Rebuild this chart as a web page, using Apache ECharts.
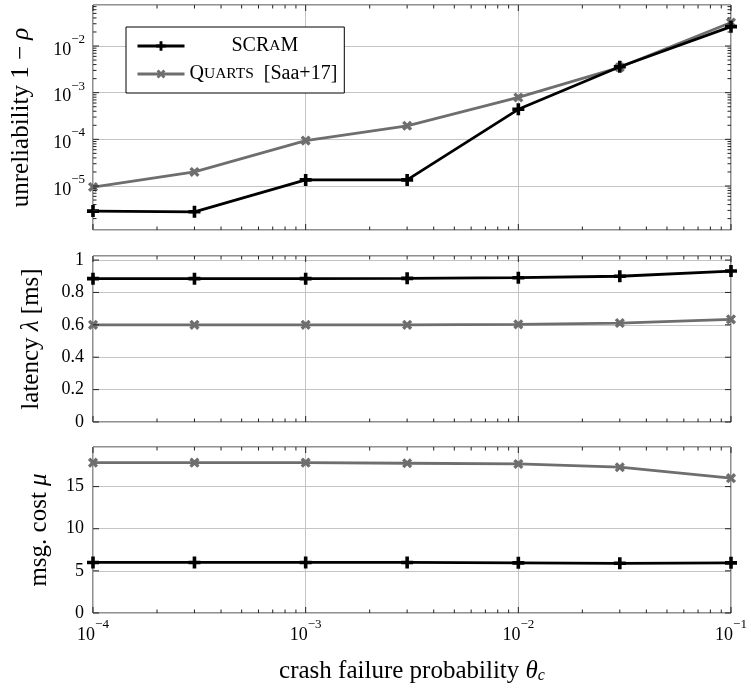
<!DOCTYPE html>
<html><head><meta charset="utf-8">
<script src="https://cdn.jsdelivr.net/npm/echarts@6/dist/echarts.min.js"></script>
<style>html,body{margin:0;padding:0;background:#fff}#c{width:751px;height:688px}</style>
</head><body><div id="c"></div>
<script>
// ---- data ----
const theta = [1e-4, 3e-4, 1e-3, 3e-3, 1e-2, 3e-2, 1e-1];
const scramUnrel = [2.9e-6, 2.8e-6, 1.35e-5, 1.35e-5, 4.4e-4, 3.6e-3, 2.6e-2];
const quartsUnrel = [9.5e-6, 2.0e-5, 9.4e-5, 1.95e-4, 7.9e-4, 3.5e-3, 3.2e-2];
const scramLat = [0.885, 0.885, 0.885, 0.887, 0.891, 0.900, 0.932];
const quartsLat = [0.600, 0.600, 0.600, 0.600, 0.603, 0.611, 0.634];
const scramCost = [6.0, 6.0, 6.0, 6.0, 5.95, 5.9, 5.95];
const quartsCost = [17.84, 17.84, 17.84, 17.77, 17.69, 17.3, 16.0];
const xMajorTicks = [1e-4, 1e-3, 1e-2, 1e-1];
const unrelMajorTicks = [1e-5, 1e-4, 1e-3, 1e-2];
const latTicks = [0, 0.2, 0.4, 0.6, 0.8, 1];
const costTicks = [0, 5, 10, 15];

const FONT = 'Liberation Serif';
const GRAY = '#6e6e6e';
const FRAME = '#222';

function minorLog(lo, hi) {
  const out = [];
  for (let k = -7; k <= 0; k++) for (let m = 2; m <= 9; m++) {
    const v = m * Math.pow(10, k);
    if (v > lo && v < hi) out.push(v);
  }
  return out;
}
const xMinor = minorLog(1e-4, 1e-1);
const yMinor = minorLog(1.14e-6, 0.0757);

function xTickSeries(gi, yRef) {
  const data = xMajorTicks.map(v => [v, yRef, 6]).concat(xMinor.map(v => [v, yRef, 3.5]));
  return {
    type: 'custom', xAxisIndex: gi, yAxisIndex: gi, silent: true, z: 5, data,
    renderItem: (params, api) => {
      const cs = params.coordSys;
      const x = api.coord([api.value(0), yRef])[0];
      const L = api.value(2);
      const st = { stroke: FRAME, lineWidth: 1 };
      return { type: 'group', children: [
        { type: 'line', shape: { x1: x, y1: cs.y + cs.height, x2: x, y2: cs.y + cs.height - L }, style: st },
        { type: 'line', shape: { x1: x, y1: cs.y, x2: x, y2: cs.y + L }, style: st }
      ]};
    }
  };
}
function yTickSeries(gi, vals) {
  const data = vals.map(v => [1e-3, v[0], v[1]]);
  return {
    type: 'custom', xAxisIndex: gi, yAxisIndex: gi, silent: true, z: 5, data,
    renderItem: (params, api) => {
      const cs = params.coordSys;
      const y = api.coord([1e-3, api.value(1)])[1];
      const len = api.value(2);
      const st = { stroke: FRAME, lineWidth: 1 };
      return { type: 'group', children: [
        { type: 'line', shape: { x1: cs.x, y1: y, x2: cs.x + len, y2: y }, style: st },
        { type: 'line', shape: { x1: cs.x + cs.width, y1: y, x2: cs.x + cs.width - len, y2: y }, style: st }
      ]};
    }
  };
}

const plusPath = 'path://M3.5,0h3v3.5h3.5v3h-3.5v3.5h-3v-3.5h-3.5v-3h3.5z';
function lineSeries(name, gi, ys, color, rot) {
  return {
    name, type: 'line', xAxisIndex: gi, yAxisIndex: gi,
    data: theta.map((t, i) => [t, ys[i]]),
    symbol: plusPath, symbolSize: rot ? 11 : 12, symbolRotate: rot ? 45 : 0,
    showSymbol: true, z: rot ? 3 : 4,
    lineStyle: { color, width: 2.8 }, itemStyle: { color },
    emphasis: { disabled: true }
  };
}

const supRich = {
  b: { fontFamily: FONT, fontSize: 18, color: '#000', lineHeight: 26, verticalAlign: 'bottom' },
  s: { fontFamily: FONT, fontSize: 13, color: '#000', lineHeight: 13, verticalAlign: 'top' }
};
function powLabel(v) {
  const e = Math.log10(v), r = Math.round(e);
  if (Math.abs(e - r) > 1e-6) return '';
  return '{b|10}{s|\u2212' + (-r) + '}';
}
const NF = 25;
const nameStyle = () => ({
  fontFamily: FONT, fontSize: NF, color: '#000',
  rich: { i: { fontFamily: FONT, fontSize: NF, fontStyle: 'italic', color: '#000' },
          sub: { fontFamily: FONT, fontSize: 16, fontStyle: 'italic', color: '#000', lineHeight: 16, verticalAlign: 'bottom' } }
});

const grids = [
  { left: 93, right: 20, top: 5, height: 225 },
  { left: 93, right: 20, top: 256, height: 166 },
  { left: 93, right: 20, top: 447, height: 166 }
].map(g => Object.assign(g, { show: true, borderColor: FRAME, borderWidth: 1, backgroundColor: 'transparent' }));

const splitLine = { show: true, lineStyle: { color: '#c4c4c4', width: 1 } };
const linLabel = { fontFamily: FONT, fontSize: 18, color: '#000', margin: 9 };

const xAxes = [0, 1, 2].map(gi => ({
  type: 'log', logBase: 10, gridIndex: gi, min: 1e-4, max: 1e-1,
  axisLine: { show: false }, axisTick: { show: false }, splitLine,
  axisLabel: gi === 2 ? { show: true, formatter: powLabel, rich: supRich, margin: 5 } : { show: false },
  name: gi === 2 ? 'crash failure probability {i|\u03b8}{sub|c}' : '',
  nameLocation: 'middle', nameGap: 46, nameTextStyle: nameStyle()
}));

const yAxes = [
  { type: 'log', logBase: 10, gridIndex: 0, min: 1.14e-6, max: 0.0757,
    axisLine: { show: false }, axisTick: { show: false }, splitLine,
    axisLabel: { formatter: powLabel, rich: supRich, margin: 8 },
    name: 'unreliability 1 \u2212 {i|\u03c1}', nameLocation: 'middle', nameGap: 59, nameTextStyle: nameStyle() },
  { type: 'value', gridIndex: 1, min: 0, max: 1.025, interval: 0.2,
    axisLine: { show: false }, axisTick: { show: false }, splitLine,
    axisLabel: Object.assign({}, linLabel, {
      formatter: v => latTicks.some(t => Math.abs(t - v) < 1e-9) ? String(+v.toFixed(1)) : '' }),
    name: 'latency {i|\u03bb} [ms]', nameLocation: 'middle', nameGap: 49, nameTextStyle: nameStyle() },
  { type: 'value', gridIndex: 2, min: 0, max: 19.7, interval: 5,
    axisLine: { show: false }, axisTick: { show: false }, splitLine,
    axisLabel: Object.assign({}, linLabel, {
      formatter: v => costTicks.includes(v) ? String(v) : '' }),
    name: 'msg. cost {i|\u03bc}', nameLocation: 'middle', nameGap: 41, nameTextStyle: nameStyle() }
];

const series = [
  lineSeries('SCRAM', 0, scramUnrel, '#000', false),
  lineSeries('QUARTS', 0, quartsUnrel, GRAY, true),
  lineSeries('SCRAM', 1, scramLat, '#000', false),
  lineSeries('QUARTS', 1, quartsLat, GRAY, true),
  lineSeries('SCRAM', 2, scramCost, '#000', false),
  lineSeries('QUARTS', 2, quartsCost, GRAY, true),
  xTickSeries(0, 1e-3), xTickSeries(1, 0.5), xTickSeries(2, 5),
  yTickSeries(0, unrelMajorTicks.map(v => [v, 6]).concat(yMinor.map(v => [v, 3.5]))),
  yTickSeries(1, latTicks.map(v => [v, 6])),
  yTickSeries(2, costTicks.map(v => [v, 6]))
];

const chart = echarts.init(document.getElementById('c'), null, { renderer: 'canvas' });
chart.setOption({
  animation: false,
  backgroundColor: '#fff',
  grid: grids, xAxis: xAxes, yAxis: yAxes, series,
  legend: {
    data: ['SCRAM', 'QUARTS'], orient: 'vertical', left: 126, top: 27,
    padding: [9, 7, 9, 10], itemWidth: 47, itemHeight: 12, itemGap: 8,
    backgroundColor: '#fff', borderColor: '#000', borderWidth: 1, borderRadius: 0,
    selectedMode: false, z: 10,
    lineStyle: { width: 3 },
    formatter: n => n === 'SCRAM' ? '{p|}{r|SCR}{s|A}{r|M}' : '{r|Q}{s|UARTS}{r|  [Saa+17]}',
    textStyle: { fontFamily: FONT, color: '#000',
      rich: { r: { fontFamily: FONT, fontSize: 20, color: '#000', lineHeight: 22 },
              s: { fontFamily: FONT, fontSize: 15.5, color: '#000', lineHeight: 22 },
              p: { width: 42 } } }
  }
});
</script></body></html>
